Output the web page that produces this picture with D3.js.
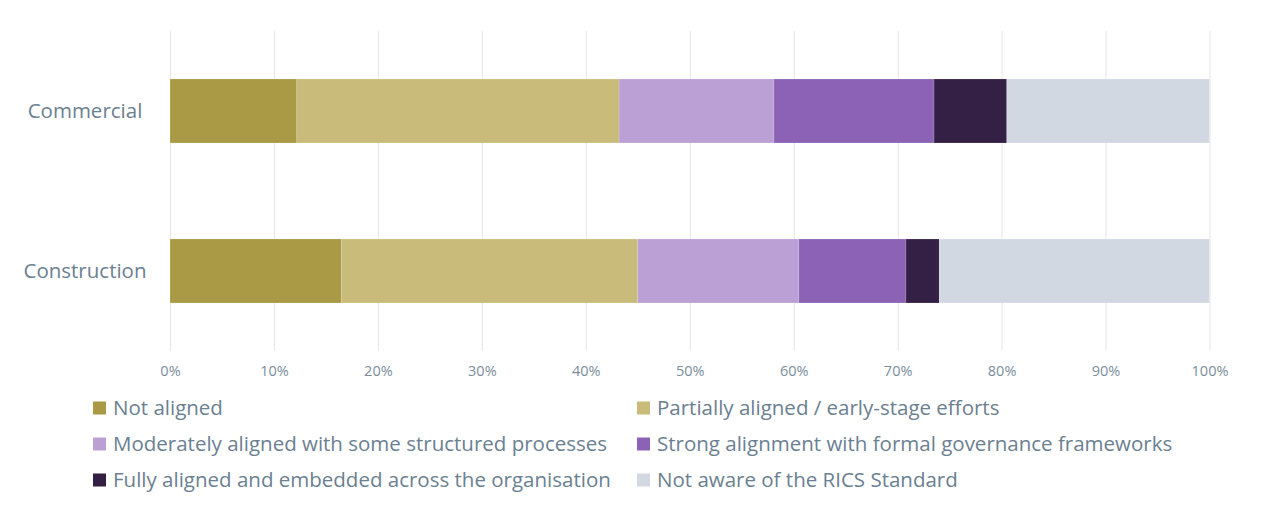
<!DOCTYPE html>
<html><head><meta charset="utf-8">
<script src="https://cdn.jsdelivr.net/npm/d3@7"></script>
<style>
body{margin:0;background:#fff;}
svg{display:block;font-family:"Open Sans",sans-serif;}
</style></head>
<body><svg id="c" width="1280" height="529"></svg>
<script>
const categories = ["Commercial", "Construction"];
const seriesNames = [
  "Not aligned",
  "Partially aligned / early-stage efforts",
  "Moderately aligned with some structured processes",
  "Strong alignment with formal governance frameworks",
  "Fully aligned and embedded across the organisation",
  "Not aware of the RICS Standard"
];
const seriesColors = ["#ab9a45", "#c9bc7a", "#bba0d5", "#8c62b6", "#341f45", "#d2d8e2"];
const commercialValues = [12.2, 31.0, 14.9, 15.4, 7.0, 19.5];
const constructionValues = [16.5, 28.5, 15.5, 10.3, 3.2, 26.0];
const xTicks = [0, 10, 20, 30, 40, 50, 60, 70, 80, 90, 100];

const rows = [commercialValues, constructionValues].map((vals, i) => {
  const o = {cat: categories[i]};
  seriesNames.forEach((s, j) => o[s] = vals[j]);
  return o;
});

const svg = d3.select("#c");
const margin = {left: 170, right: 1280 - 1209.5, top: 31, bottom: 529 - 351};
const W = 1280, H = 529;
const x = d3.scaleLinear().domain([0, 100]).range([margin.left, W - margin.right]);
const y = d3.scaleBand().domain(categories).range([margin.top, H - margin.bottom]).paddingInner(0.6).paddingOuter(0.3);

// gridlines
const grid = svg.append("g").attr("transform", `translate(0,${H - margin.bottom})`)
  .call(d3.axisBottom(x).tickValues(xTicks).tickSize(-(H - margin.bottom - margin.top)).tickFormat(""));
grid.select(".domain").remove();
grid.selectAll("line").attr("stroke", "#e6e6e6").attr("stroke-width", 1);

// tick labels
const ax = svg.append("g").attr("transform", `translate(0,${H - margin.bottom})`)
  .call(d3.axisBottom(x).tickValues(xTicks).tickSize(0).tickPadding(15).tickFormat(d => d + "%"));
ax.select(".domain").remove();
ax.selectAll("text").attr("fill", "#7a8d9c").style("font-size", "14.5px").style("font-family", "Open Sans");

// category labels (centred in the left margin)
const ay = svg.append("g");
ay.selectAll("text").data(categories).join("text")
  .attr("x", 85).attr("y", d => y(d) + y.bandwidth() / 2).attr("dy", "0.33em")
  .attr("text-anchor", "middle").text(d => d)
  .attr("fill", "#6b8091").style("font-size", "20.5px");

// bars
const stack = d3.stack().keys(seriesNames)(rows);
const color = d3.scaleOrdinal().domain(seriesNames).range(seriesColors);
svg.append("g").selectAll("g").data(stack).join("g")
  .attr("fill", d => color(d.key))
  .selectAll("rect").data(d => d).join("rect")
  .attr("x", d => x(d[0]))
  .attr("width", d => x(d[1]) - x(d[0]))
  .attr("y", d => y(d.data.cat))
  .attr("height", y.bandwidth())
  .attr("stroke", "#ffffff").attr("stroke-opacity", 0.25).attr("stroke-width", 0.6);

// legend
const legendCols = [93, 637];
const legendRows = [408, 444, 480];
const lg = svg.append("g").selectAll("g").data(seriesNames).join("g")
  .attr("transform", (d, i) => `translate(${legendCols[i % 2]},${legendRows[Math.floor(i / 2)]})`);
lg.append("rect").attr("x", 0).attr("y", -6.5).attr("width", 13).attr("height", 13).attr("fill", d => color(d));
lg.append("text").attr("x", 20).attr("dy", "0.35em").text(d => d)
  .attr("fill", "#6b8091").style("font-size", "20.5px");
</script></body></html>
